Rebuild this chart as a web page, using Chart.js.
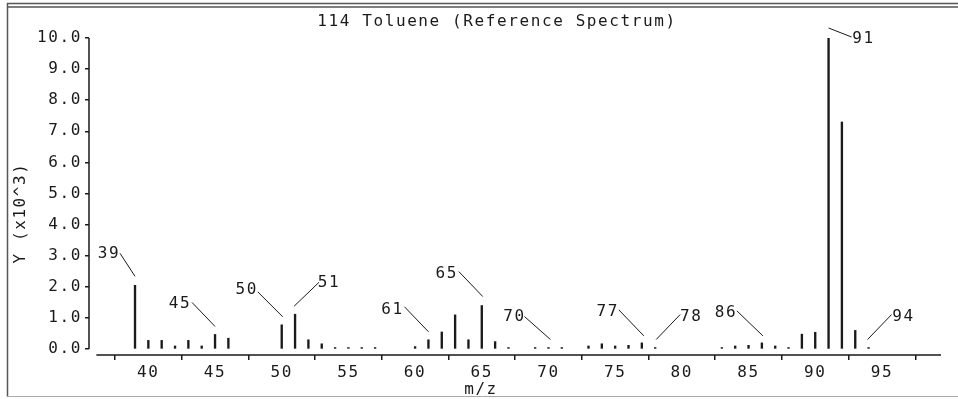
<!DOCTYPE html>
<html>
<head>
<meta charset="utf-8">
<script src="https://cdn.jsdelivr.net/npm/chart.js@4.4.0/dist/chart.umd.min.js"></script>
<style>
  html, body { margin: 0; padding: 0; background: #fff; }
  #wrap { width: 958px; height: 399px; position: relative; }
</style>
</head>
<body>
<div id="wrap"><canvas id="spectrum"></canvas></div>
<script>
// peaks (y in units of 10^3)
const massToCharge = [39, 40, 41, 42, 43, 44, 45, 46, 50, 51, 52, 53, 54, 55, 56, 57,
  60, 61, 62, 63, 64, 65, 66, 67, 69, 70, 71, 73, 74, 75, 76, 77, 78,
  83, 84, 85, 86, 87, 88, 89, 90, 91, 92, 93, 94];
const intensity = [2.05, 0.28, 0.28, 0.1, 0.28, 0.1, 0.47, 0.35, 0.78, 1.12, 0.3, 0.17, 0.05, 0.05, 0.05, 0.05,
  0.08, 0.3, 0.55, 1.1, 0.3, 1.4, 0.24, 0.05, 0.05, 0.05, 0.05, 0.1, 0.17, 0.1, 0.12, 0.2, 0.05,
  0.05, 0.1, 0.12, 0.2, 0.1, 0.05, 0.48, 0.54, 10.0, 7.3, 0.6, 0.05];
const labelledPeaks = [39, 45, 50, 51, 61, 65, 70, 77, 78, 86, 91, 94];
const xTickValues = [40, 45, 50, 55, 60, 65, 70, 75, 80, 85, 90, 95];
const yTickValues = [0, 1, 2, 3, 4, 5, 6, 7, 8, 9, 10];
const chartTitle = '114 Toluene (Reference Spectrum)';
const xTitle = 'm/z';
const yTitle = 'Y (x10^3)';

// leader line [x1, y1, x2, y2] and text centre [tx, ty], relative to the bar top
const labelOffsets = {
  39: [-15, -32, 0, -9, -26, -31],
  45: [-23, -32, 0, -8, -35, -31],
  50: [-24, -33, 1, -8, -35, -35],
  51: [-1, -8, 24, -32, 34, -31],
  61: [-24, -33, 0, -8, -36, -30],
  65: [-23, -34, 1, -9, -35, -32],
  70: [-24, -31, 2, -8, -34, -31],
  77: [-23, -33, 2, -7, -34, -31],
  78: [1, -8, 25, -33, 36, -31],
  86: [-25, -32, 1, -7, -36, -30],
  91: [0, -10, 23, -1, 35, 1],
  94: [-1, -8, 23, -33, 35, -31],
};

const FONT = 'DejaVu Sans Mono';
const SPACING = '1.6px';
const INK = '#1a1a1a';

const spacing = {
  id: 'spacing',
  beforeLayout(chart) { chart.ctx.letterSpacing = SPACING; },
  beforeDraw(chart) { chart.ctx.letterSpacing = SPACING; },
};

const decorations = {
  id: 'decorations',
  afterDraw(chart) {
    const ctx = chart.ctx;
    const x = chart.scales.x;
    const y = chart.scales.y;
    const area = chart.chartArea;
    ctx.save();
    ctx.letterSpacing = SPACING;

    // detached axis lines
    ctx.strokeStyle = INK;
    ctx.lineWidth = 1.5;
    ctx.beginPath();
    ctx.moveTo(area.left, y.getPixelForValue(10));
    ctx.lineTo(area.left, y.getPixelForValue(0));
    ctx.moveTo(x.getPixelForValue(36.1), area.bottom);
    ctx.lineTo(area.right, area.bottom);
    ctx.stroke();

    // peak labels
    ctx.lineWidth = 1;
    ctx.font = '16px ' + FONT;
    ctx.fillStyle = INK;
    ctx.textAlign = 'center';
    ctx.textBaseline = 'middle';
    labelledPeaks.forEach((mz) => {
      const i = massToCharge.indexOf(mz);
      const px = x.getPixelForValue(mz);
      const py = y.getPixelForValue(intensity[i]);
      const o = labelOffsets[mz];
      ctx.beginPath();
      ctx.moveTo(px + o[0], py + o[1]);
      ctx.lineTo(px + o[2], py + o[3]);
      ctx.stroke();
      ctx.fillText(String(mz), px + o[4], py + o[5]);
    });

    // titles
    ctx.fillText(chartTitle, 497, 22);
    ctx.fillText(xTitle, 481, 390);
    ctx.fillText(xTitle, 481, -5);
    ctx.save();
    ctx.translate(21, 213);
    ctx.rotate(-Math.PI / 2);
    ctx.fillText(yTitle, 0, 0);
    ctx.restore();

    // panel frame
    ctx.strokeStyle = '#555';
    ctx.lineWidth = 1.5;
    ctx.beginPath();
    ctx.moveTo(7, 3.5);
    ctx.lineTo(958, 3.5);
    ctx.moveTo(7, 7);
    ctx.lineTo(958, 7);
    ctx.moveTo(7.5, 3);
    ctx.lineTo(7.5, 397);
    ctx.stroke();
    ctx.strokeStyle = '#aaa';
    ctx.lineWidth = 1;
    ctx.beginPath();
    ctx.moveTo(7, 396.5);
    ctx.lineTo(958, 396.5);
    ctx.stroke();
    ctx.restore();
  },
};

new Chart(document.getElementById('spectrum'), {
  type: 'bar',
  data: {
    datasets: [{
      data: massToCharge.map((mz, i) => ({ x: mz, y: intensity[i] })),
      backgroundColor: INK,
      borderWidth: 0,
      barThickness: 1.7,
    }],
  },
  options: {
    responsive: true,
    maintainAspectRatio: false,
    animation: false,
    devicePixelRatio: 1,
    layout: { padding: { top: 38, right: 17, left: 0, bottom: 0 } },
    plugins: {
      legend: { display: false },
      tooltip: { enabled: false },
    },
    scales: {
      x: {
        type: 'linear',
        min: 35.55,
        max: 99.43,
        offset: false,
        border: { display: false },
        grid: { drawOnChartArea: false, drawTicks: true, tickLength: 5, color: INK, lineWidth: 1.5 },
        ticks: { color: INK, font: { family: FONT, size: 16 }, padding: 3, maxRotation: 0, autoSkip: false },
        afterBuildTicks(scale) { scale.ticks = xTickValues.map((v) => ({ value: v })); },
        afterFit(scale) { scale.height = 44; },
      },
      y: {
        min: -0.19,
        max: 10,
        border: { display: false },
        grid: { drawOnChartArea: false, drawTicks: true, tickLength: 4, color: INK, lineWidth: 1.5 },
        ticks: {
          color: INK,
          font: { family: FONT, size: 16 },
          padding: 3,
          callback: (v) => Number(v).toFixed(1),
        },
        afterBuildTicks(scale) { scale.ticks = yTickValues.map((v) => ({ value: v })); },
        afterFit(scale) { scale.width = 89; },
      },
    },
  },
  plugins: [spacing, decorations],
});
</script>
</body>
</html>
